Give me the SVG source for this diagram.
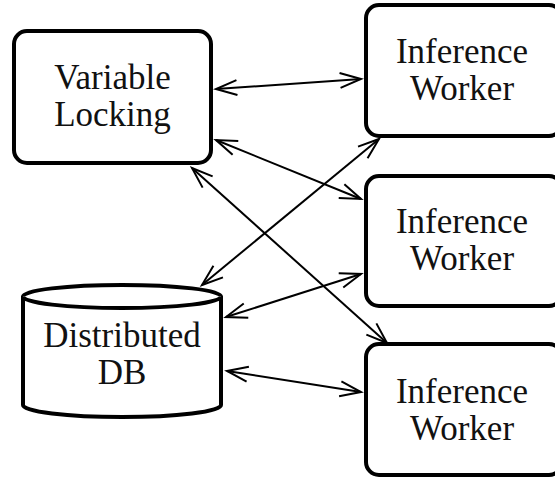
<svg xmlns="http://www.w3.org/2000/svg" width="555" height="477" viewBox="0 0 555 477">
  <style>
    .box { fill: #fff; stroke: #000; stroke-width: 4; }
    .lbl { font-size: 35px; fill: #111; text-anchor: middle; }
    .conn { stroke: #000; stroke-width: 2; fill: none; marker-start: url(#ah); marker-end: url(#ah); }
  </style>
  <defs>
    <marker id="ah" markerUnits="userSpaceOnUse" markerWidth="26" markerHeight="20" refX="22" refY="10" orient="auto-start-reverse" overflow="visible">
      <path d="M1,2.5 L22,10 L1,17.5" fill="none" stroke="#000" stroke-width="2"/>
    </marker>
  </defs>
  <rect width="555" height="477" fill="#fff"/>
  <g id="connectors">
    <line class="conn" x1="216" y1="89" x2="361" y2="79"/>
    <line class="conn" x1="216" y1="140" x2="361" y2="199"/>
    <line class="conn" x1="192" y1="168" x2="387" y2="343"/>
    <line class="conn" x1="202" y1="285" x2="379" y2="139"/>
    <line class="conn" x1="226" y1="317" x2="361" y2="274"/>
    <line class="conn" x1="227" y1="371" x2="361" y2="392"/>
  </g>
  <g font-family="Liberation Serif, serif">
  <g id="variable-locking">
    <rect class="box" x="14" y="31" width="197" height="132" rx="13"/>
    <text class="lbl" x="112.5" y="89">Variable</text>
    <text class="lbl" x="112.5" y="126">Locking</text>
  </g>
  <g id="worker-1">
    <rect class="box" x="366" y="5" width="196" height="131" rx="13"/>
    <text class="lbl" x="462" y="63">Inference</text>
    <text class="lbl" x="462" y="100">Worker</text>
  </g>
  <g id="worker-2">
    <rect class="box" x="366" y="176" width="196" height="130" rx="13"/>
    <text class="lbl" x="462" y="233">Inference</text>
    <text class="lbl" x="462" y="270">Worker</text>
  </g>
  <g id="worker-3">
    <rect class="box" x="366" y="344" width="196" height="131" rx="13"/>
    <text class="lbl" x="462" y="403">Inference</text>
    <text class="lbl" x="462" y="440">Worker</text>
  </g>
  <g id="distributed-db">
    <path class="box" d="M23,296.5 L23,405 A99,12 0 0 0 221,405 L221,296.5 A99,11.5 0 0 0 23,296.5 Z"/>
    <path class="box" fill="none" d="M23,296.5 A99,11.5 0 0 0 221,296.5"/>
    <text class="lbl" x="122" y="347">Distributed</text>
    <text class="lbl" x="122" y="384">DB</text>
  </g>
  </g>
</svg>
